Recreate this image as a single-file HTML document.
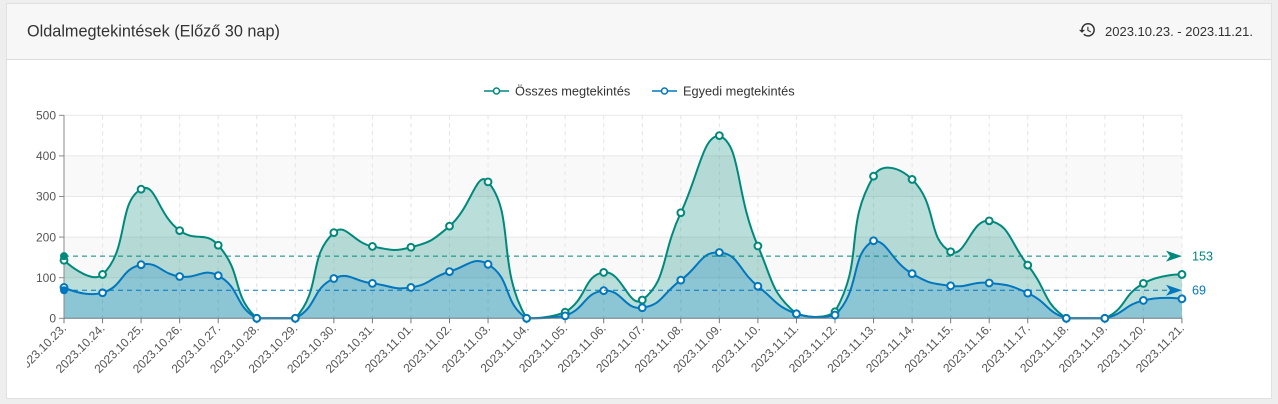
<!DOCTYPE html>
<html>
<head>
<meta charset="utf-8">
<style>
html,body{margin:0;padding:0;width:1278px;height:404px;overflow:hidden;background:#eeeeee;font-family:"Liberation Sans",sans-serif;}
.card{position:absolute;left:6px;top:3px;width:1266px;height:396px;box-sizing:border-box;background:#ffffff;border:1px solid #e1e1e1;}
.head{position:absolute;left:0;top:0;right:0;height:55px;background:#f7f7f7;border-bottom:1px solid #dddddd;}
svg{position:absolute;left:0;top:0;}
</style>
</head>
<body>
<div class="card"><div class="head"></div></div>
<svg width="1278" height="404" viewBox="0 0 1278 404" xmlns="http://www.w3.org/2000/svg" font-family="Liberation Sans, sans-serif">
  <defs>
    <clipPath id="clipL"><rect x="27" y="0" width="1230" height="404"/></clipPath>
  </defs>
  <!-- header -->
  <text x="27" y="36.5" font-size="16.25" fill="#333">Oldalmegtekintések (Előző 30 nap)</text>
  <g transform="translate(1078.2,20.7) scale(0.76)" fill="#333">
    <path d="M13 3c-4.970 0-9 4.030-9 9H1l3.890 3.890.070.140L9 12H6c0-3.870 3.130-7 7-7s7 3.130 7 7-3.130 7-7 7c-1.930 0-3.680-.790-4.940-2.060l-1.420 1.420C8.270 19.990 10.510 21 13 21c4.970 0 9-4.030 9-9s-4.030-9-9-9zm-1 5v5l4.280 2.540.720-1.210-3.500-2.080V8H12z"/>
  </g>
  <text x="1105" y="36" font-size="13" fill="#333">2023.10.23. - 2023.11.21.</text>

  <!-- legend -->
  <line x1="484" y1="91" x2="509" y2="91" stroke="#00897b" stroke-width="1.5"/>
  <circle cx="496.5" cy="91" r="3" fill="#fff" stroke="#00897b" stroke-width="1.5"/>
  <text x="515" y="95.5" font-size="12.8" fill="#333">Összes megtekintés</text>
  <line x1="652" y1="91" x2="677" y2="91" stroke="#0277bd" stroke-width="1.5"/>
  <circle cx="664.5" cy="91" r="3" fill="#fff" stroke="#0277bd" stroke-width="1.5"/>
  <text x="683" y="95.5" font-size="12.8" fill="#333">Egyedi megtekintés</text>

  <!-- plot bands -->
  <rect x="64" y="237.1" width="1118" height="40.6" fill="#f9f9f9"/>
  <rect x="64" y="155.9" width="1118" height="40.6" fill="#f9f9f9"/>
  <!-- horizontal split lines -->
  <g stroke="#e8e8e8" stroke-width="1">
    <line x1="64" y1="115.3" x2="1182" y2="115.3"/>
    <line x1="64" y1="155.9" x2="1182" y2="155.9"/>
    <line x1="64" y1="196.5" x2="1182" y2="196.5"/>
    <line x1="64" y1="237.1" x2="1182" y2="237.1"/>
    <line x1="64" y1="277.7" x2="1182" y2="277.7"/>
  </g>
  <g id="vgrid" stroke="#e4e4e4" stroke-width="1" stroke-dasharray="4 4"></g>

  <g id="series"></g>

  <!-- axes -->
  <line x1="64" y1="115.3" x2="64" y2="318.3" stroke="#8a8a8a" stroke-width="1"/>
  <g stroke="#8a8a8a" stroke-width="1">
    <line x1="59" y1="115.3" x2="64" y2="115.3"/>
    <line x1="59" y1="155.9" x2="64" y2="155.9"/>
    <line x1="59" y1="196.5" x2="64" y2="196.5"/>
    <line x1="59" y1="237.1" x2="64" y2="237.1"/>
    <line x1="59" y1="277.7" x2="64" y2="277.7"/>
    <line x1="59" y1="318.3" x2="64" y2="318.3"/>
  </g>
  <line x1="64" y1="318.3" x2="1182" y2="318.3" stroke="#6e7c84" stroke-width="1"/>
  <g id="xticks" stroke="#6e7c84" stroke-width="1"></g>

  <g id="over"></g>

  <g font-size="12" fill="#555" text-anchor="end">
    <text x="56" y="119.5">500</text>
    <text x="56" y="160.1">400</text>
    <text x="56" y="200.7">300</text>
    <text x="56" y="241.3">200</text>
    <text x="56" y="281.9">100</text>
    <text x="56" y="322.5">0</text>
  </g>

  <g font-size="12" fill="#555" text-anchor="end" clip-path="url(#clipL)">
    <text x="64" y="326" dy="0.35em" transform="rotate(-45 64 326)">2023.10.23.</text>
    <text x="102.55" y="326" dy="0.35em" transform="rotate(-45 102.55 326)">2023.10.24.</text>
    <text x="141.1" y="326" dy="0.35em" transform="rotate(-45 141.1 326)">2023.10.25.</text>
    <text x="179.65" y="326" dy="0.35em" transform="rotate(-45 179.65 326)">2023.10.26.</text>
    <text x="218.2" y="326" dy="0.35em" transform="rotate(-45 218.2 326)">2023.10.27.</text>
    <text x="256.75" y="326" dy="0.35em" transform="rotate(-45 256.75 326)">2023.10.28.</text>
    <text x="295.3" y="326" dy="0.35em" transform="rotate(-45 295.3 326)">2023.10.29.</text>
    <text x="333.85" y="326" dy="0.35em" transform="rotate(-45 333.85 326)">2023.10.30.</text>
    <text x="372.4" y="326" dy="0.35em" transform="rotate(-45 372.4 326)">2023.10.31.</text>
    <text x="410.95" y="326" dy="0.35em" transform="rotate(-45 410.95 326)">2023.11.01.</text>
    <text x="449.5" y="326" dy="0.35em" transform="rotate(-45 449.5 326)">2023.11.02.</text>
    <text x="488.05" y="326" dy="0.35em" transform="rotate(-45 488.05 326)">2023.11.03.</text>
    <text x="526.6" y="326" dy="0.35em" transform="rotate(-45 526.6 326)">2023.11.04.</text>
    <text x="565.15" y="326" dy="0.35em" transform="rotate(-45 565.15 326)">2023.11.05.</text>
    <text x="603.7" y="326" dy="0.35em" transform="rotate(-45 603.7 326)">2023.11.06.</text>
    <text x="642.25" y="326" dy="0.35em" transform="rotate(-45 642.25 326)">2023.11.07.</text>
    <text x="680.8" y="326" dy="0.35em" transform="rotate(-45 680.8 326)">2023.11.08.</text>
    <text x="719.35" y="326" dy="0.35em" transform="rotate(-45 719.35 326)">2023.11.09.</text>
    <text x="757.9" y="326" dy="0.35em" transform="rotate(-45 757.9 326)">2023.11.10.</text>
    <text x="796.45" y="326" dy="0.35em" transform="rotate(-45 796.45 326)">2023.11.11.</text>
    <text x="835" y="326" dy="0.35em" transform="rotate(-45 835 326)">2023.11.12.</text>
    <text x="873.55" y="326" dy="0.35em" transform="rotate(-45 873.55 326)">2023.11.13.</text>
    <text x="912.1" y="326" dy="0.35em" transform="rotate(-45 912.1 326)">2023.11.14.</text>
    <text x="950.65" y="326" dy="0.35em" transform="rotate(-45 950.65 326)">2023.11.15.</text>
    <text x="989.2" y="326" dy="0.35em" transform="rotate(-45 989.2 326)">2023.11.16.</text>
    <text x="1027.75" y="326" dy="0.35em" transform="rotate(-45 1027.75 326)">2023.11.17.</text>
    <text x="1066.3" y="326" dy="0.35em" transform="rotate(-45 1066.3 326)">2023.11.18.</text>
    <text x="1104.85" y="326" dy="0.35em" transform="rotate(-45 1104.85 326)">2023.11.19.</text>
    <text x="1143.4" y="326" dy="0.35em" transform="rotate(-45 1143.4 326)">2023.11.20.</text>
    <text x="1181.95" y="326" dy="0.35em" transform="rotate(-45 1181.95 326)">2023.11.21.</text>
  </g>

  <text x="1192" y="256.2" dy="0.35em" font-size="12.6" fill="#00897b">153</text>
  <text x="1192" y="290.3" dy="0.35em" font-size="12.6" fill="#0277bd">69</text>
</svg>
<script>
(function(){
  var NS="http://www.w3.org/2000/svg";
  var G=[143,108,318,216,180,0,0,211,177,175,227,336,0,15,113,45,260,450,178,11,16,350,342,164,240,131,0,0,86,108];
  var B=[76,63,132,103,105,0,0,98,86,76,115,133,0,6,68,26,94,162,79,11,8,191,110,80,87,62,0,0,44,48];
  function X(i){return 64+38.55*i;}
  function Y(v){return 318.3-v*0.406;}
  function el(tag,attrs,parent){var e=document.createElementNS(NS,tag);for(var k in attrs)e.setAttribute(k,attrs[k]);parent.appendChild(e);return e;}
  /* ECharts 4 style smoothing with global bounding-box constraint */
  function smooth(pts,s){
    var n=pts.length;
    var minX=Infinity,minY=Infinity,maxX=-Infinity,maxY=-Infinity;
    pts.forEach(function(p){minX=Math.min(minX,p[0]);maxX=Math.max(maxX,p[0]);minY=Math.min(minY,p[1]);maxY=Math.max(maxY,p[1]);});
    function cl(c){return [Math.max(minX,Math.min(maxX,c[0])),Math.max(minY,Math.min(maxY,c[1]))];}
    var d="M"+pts[0][0].toFixed(2)+","+pts[0][1].toFixed(2);
    var cp0=[pts[0][0],pts[0][1]];
    for(var i=1;i<n;i++){
      var p=pts[i],prev=pts[i-1],next=pts[i+1];
      var cp1,nextCp0;
      if(!next){cp1=[p[0],p[1]];nextCp0=[p[0],p[1]];}
      else{
        var vx=next[0]-prev[0],vy=next[1]-prev[1];
        var lp=Math.hypot(p[0]-prev[0],p[1]-prev[1]);
        var ln=Math.hypot(next[0]-p[0],next[1]-p[1]);
        var r=ln/(ln+lp);
        cp1=[p[0]-vx*s*(1-r),p[1]-vy*s*(1-r)];
        nextCp0=[p[0]+vx*s*r,p[1]+vy*s*r];
      }
      var a=cl(cp0),b=cl(cp1);
      d+="C"+a[0].toFixed(2)+","+a[1].toFixed(2)+" "+b[0].toFixed(2)+","+b[1].toFixed(2)+" "+p[0].toFixed(2)+","+p[1].toFixed(2);
      cp0=nextCp0;
    }
    return d;
  }
  var vg=document.getElementById("vgrid");
  var xt=document.getElementById("xticks");
  for(var i=1;i<30;i++){el("line",{x1:X(i),y1:115.3,x2:X(i),y2:318.3},vg);}
  for(var i=0;i<30;i++){el("line",{x1:X(i),y1:318.3,x2:X(i),y2:323.3},xt);}
  var sg=document.getElementById("series");
  function pts(a){return a.map(function(v,i){return [X(i),Y(v)];});}
  var gp=smooth(pts(G),0.5), bp=smooth(pts(B),0.5);
  var tail=" L"+X(29).toFixed(2)+",318.3 L64,318.3 Z";
  el("path",{d:gp+tail,fill:"rgba(0,137,123,0.27)",stroke:"none"},sg);
  el("path",{d:gp,fill:"none",stroke:"#00897b","stroke-width":2},sg);
  el("path",{d:bp+tail,fill:"rgba(2,119,189,0.25)",stroke:"none"},sg);
  el("path",{d:bp,fill:"none",stroke:"#0277bd","stroke-width":2},sg);
  var ov=document.getElementById("over");
  G.forEach(function(v,i){el("circle",{cx:X(i),cy:Y(v),r:3.4,fill:"#fff",stroke:"#00897b","stroke-width":2},ov);});
  B.forEach(function(v,i){el("circle",{cx:X(i),cy:Y(v),r:3.4,fill:"#fff",stroke:"#0277bd","stroke-width":2},ov);});
  function mark(v,c){
    var y=Y(v);
    el("line",{x1:64,y1:y,x2:1171,y2:y,stroke:c,"stroke-width":1,"stroke-dasharray":"5 4"},ov);
    el("circle",{cx:64,cy:y,r:4,fill:c},ov);
    el("path",{d:"M1182,"+y+" L1166,"+(y-5.5)+" L1170,"+y+" L1166,"+(y+5.5)+" Z",fill:c},ov);
  }
  mark(153,"#00897b");
  mark(69,"#0277bd");
})();
</script>
</body>
</html>
